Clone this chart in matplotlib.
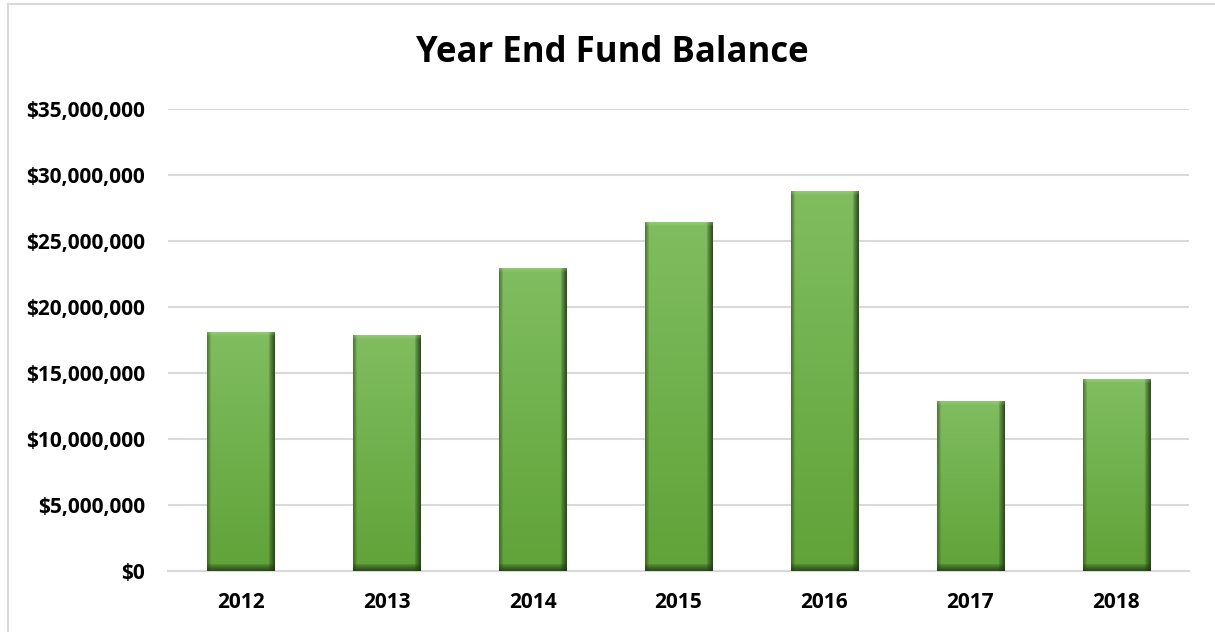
import numpy as np
import matplotlib
matplotlib.use("Agg")
import matplotlib.pyplot as plt
from matplotlib.ticker import FuncFormatter, MultipleLocator
from matplotlib.lines import Line2D

years = ["2012", "2013", "2014", "2015", "2016", "2017", "2018"]
balances = [18050000, 17800000, 22900000, 26400000, 28700000, 12800000, 14500000]

plt.rcParams['font.family'] = ['Open Sans', 'DejaVu Sans']

W, H, DPI = 1215, 632, 100
fig = plt.figure(figsize=(W / DPI, H / DPI), dpi=DPI)
ax = fig.add_axes([168 / W, 1 - 571 / H, (1189 - 168) / W, (571 - 108.5) / H])

x = np.arange(len(years))
bars = ax.bar(x, balances, width=0.46, color="#6FB04A", zorder=2)

ax.set_xlim(-0.5, len(years) - 0.5)
ax.set_ylim(0, 35000000)
ax.yaxis.set_major_locator(MultipleLocator(5000000))
ax.yaxis.set_major_formatter(FuncFormatter(lambda v, p: f"${v:,.0f}"))
ax.set_xticks(x)
ax.set_xticklabels(years)
ax.grid(axis="y", color="#D9D9D9", linewidth=1.5, zorder=0)
ax.set_axisbelow(True)
for s in ["top", "right", "left"]:
    ax.spines[s].set_visible(False)
ax.spines["bottom"].set_color("#D9D9D9")
ax.spines["bottom"].set_linewidth(1.5)
ax.tick_params(axis="both", length=0, labelsize=15)
ax.tick_params(axis="y", pad=16.5)
ax.tick_params(axis="x", pad=15)
for lab in ax.get_xticklabels() + ax.get_yticklabels():
    lab.set_fontweight("bold")

fig.text(612 / W, 1 - 53 / H, "Year End Fund Balance", ha="center", va="center",
         fontsize=25, fontweight="bold")

# chart border (left and top)
fig.add_artist(Line2D([7.5 / W, 7.5 / W], [0, 1 - 3.5 / H], transform=fig.transFigure,
                      color="#D9D9D9", lw=1.5))
fig.add_artist(Line2D([7.5 / W, 1], [1 - 3.5 / H, 1 - 3.5 / H], transform=fig.transFigure,
                      color="#D9D9D9", lw=1.5))

# bevel shading on each bar
fig.canvas.draw()
top_c = np.array([0x80, 0xBD, 0x60]) / 255
bot_c = np.array([0x60, 0xA3, 0x38]) / 255
dark = np.array([0x1E, 0x36, 0x12]) / 255
for rect in bars:
    bb = rect.get_window_extent()
    w = max(int(round(bb.width)), 2)
    h = max(int(round(bb.height)), 2)
    t = np.linspace(0, 1, h)[:, None, None]
    img = top_c * (1 - t) + bot_c * t
    img = np.repeat(img, w, axis=1)
    cols = np.arange(w)
    rows = np.arange(h)
    # right dark bevel
    rb = 7
    fr = np.clip((cols - (w - rb)) / rb, 0, 1)[None, :, None] ** 0.8
    img = img * (1 - fr * 0.92) + dark * fr * 0.92
    # bottom dark bevel
    bbv = 8
    fb = np.clip((rows - (h - bbv)) / bbv, 0, 1)[:, None, None] ** 0.7
    img = img * (1 - fb * 0.85) + dark * fb * 0.85
    # left slight dark
    fl = np.clip((4 - cols) / 4, 0, 1)[None, :, None]
    img = img * (1 - fl * 0.5) + dark * fl * 0.5
    # top light bevel
    ft = np.clip((4 - rows) / 4, 0, 1)[:, None, None]
    img = img * (1 - ft * 0.3) + np.array([0.75, 0.88, 0.65]) * ft * 0.3
    x0, y0 = rect.get_x(), rect.get_y()
    x1, y1 = x0 + rect.get_width(), y0 + rect.get_height()
    ax.imshow(np.clip(img, 0, 1), extent=(x0, x1, y0, y1), aspect="auto",
              interpolation="bilinear", zorder=3)
ax.set_xlim(-0.5, len(years) - 0.5)
ax.set_ylim(0, 35000000)

fig.savefig("out.png", dpi=DPI, facecolor="white")
